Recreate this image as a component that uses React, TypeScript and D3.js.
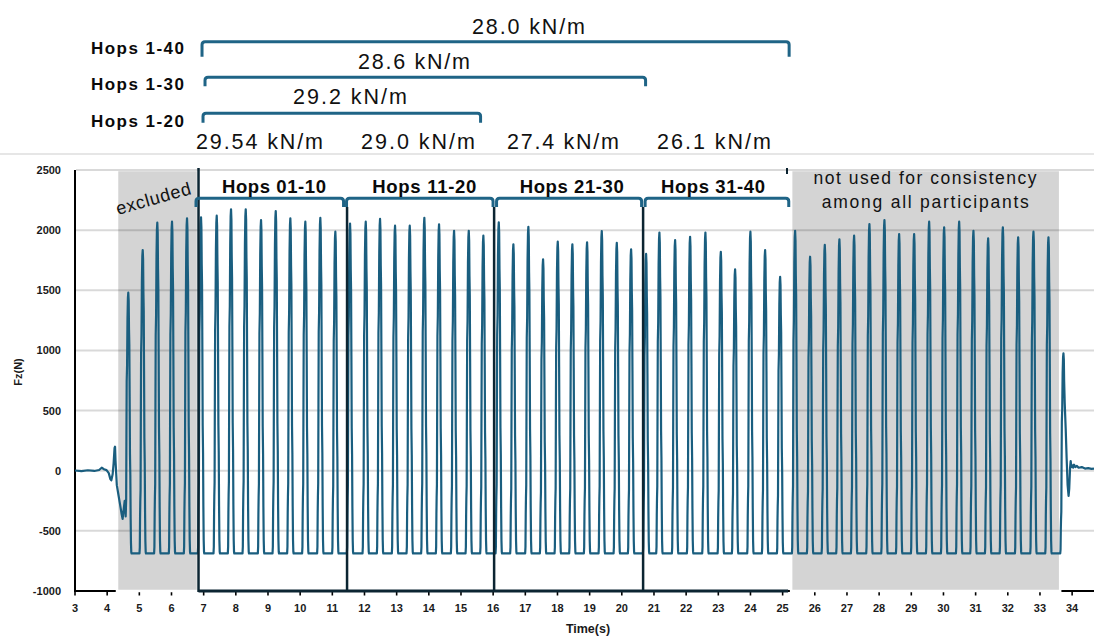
import React from "react";
import * as d3 from "d3";

// ---------- data ----------
const xTickValues = d3.range(3, 35);
const yTickValues = [-1000, -500, 0, 500, 1000, 1500, 2000, 2500];

// peak time (s) and peak force (N) of every hop, in order
const peakTimes = [
  4.657, 5.105, 5.559, 6.016, 6.483,
  6.918, 7.406, 7.851, 8.308, 8.784, 9.241, 9.695, 10.161, 10.627, 11.094,
  11.551, 12.039, 12.484, 12.95, 13.407, 13.861, 14.318, 14.785, 15.242, 15.696,
  16.175, 16.629, 17.095, 17.552, 18.009, 18.463, 18.92, 19.377, 19.844, 20.289,
  20.755, 21.169, 21.657, 22.123, 22.599, 23.078, 23.522, 23.998, 24.455, 24.922,
  25.388, 25.854, 26.311, 26.765, 27.222, 27.698, 28.165, 28.622, 29.088, 29.555,
  30.021, 30.488, 30.932, 31.389, 31.846, 32.322, 32.798, 33.264,
  33.73,
];
const peakForces = [
  1480, 1835, 2062, 2070, 2098,
  2106, 2120, 2173, 2173, 2084, 2159, 2098, 2070, 2103, 1987,
  2055, 2070, 2093, 2037, 2037, 2103, 2048, 1995, 1995, 1954,
  2065, 1882, 2028, 1757, 1904, 1882, 1899, 1993, 1895, 1840,
  1802, 1979, 1918, 1945, 1979, 1820, 1674, 1987, 1835, 1612,
  1995, 1779, 1877, 1923, 1954, 2051, 2084, 1968, 1968, 2070,
  2023, 2070, 1995, 1932, 2023, 1940, 1987, 1940,
  976,
];
const flightForce = -688;

// shape of one ground contact (time from peak, share of peak above flight level)
const contactDt = [-0.1, -0.09, -0.082, -0.075, -0.066, -0.058, -0.05, -0.038, -0.025, -0.012, 0, 0.012, 0.022, 0.032, 0.042, 0.052, 0.063, 0.073, 0.083, 0.093, 0.102];
const contactShare = [0, 0.02, 0.12, 0.17, 0.21, 0.45, 0.66, 0.72, 0.9, 0.98, 1, 0.97, 0.86, 0.8, 0.6, 0.38, 0.3, 0.14, 0.04, 0.005, 0];

// quiet standing before the hops and after them
const leadIn: [number, number][] = [
  [3.0, 2], [3.2, -3], [3.4, 4], [3.6, -2], [3.75, 6], [3.83, 25], [3.9, 12], [3.98, 5],
  [4.05, -20], [4.1, -70], [4.13, -80], [4.17, -30], [4.2, 60], [4.23, 190], [4.245, 200],
  [4.26, 80], [4.3, -120], [4.35, -200], [4.4, -280], [4.45, -360], [4.48, -400],
  [4.51, -330], [4.545, -250], [4.575, -380],
];
const tailOut: [number, number][] = [
  [33.77, 560], [33.8, 350], [33.83, 100], [33.86, -120], [33.89, -210], [33.91, -150],
  [33.935, 20], [33.955, 80], [33.975, 30], [34.0, 45], [34.03, 25], [34.06, 50], [34.1, 30],
  [34.15, 40], [34.2, 25], [34.3, 30], [34.4, 18], [34.5, 22], [34.6, 15], [34.68, 18],
];

const excludedSpan = [4.306, 6.825];
const unusedSpan = [25.264, 33.628];
const groupDividers = [6.84, 11.458, 16.03, 20.662];
const groupBoxEnd = 25.17;

const groupLabels = ["Hops 01-10", "Hops 11-20", "Hops 21-30", "Hops 31-40"];
const groupStarts = [6.762, 11.442, 16.106, 20.724];
const groupEnds = [11.349, 15.997, 20.615, 25.19];
const groupStiffness = ["29.54 kN/m", "29.0 kN/m", "27.4 kN/m", "26.1 kN/m"];

const rangeLabels = ["Hops 1-40", "Hops 1-30", "Hops 1-20"];
const rangeStarts = [6.949, 7.042, 6.98];
const rangeEnds = [25.202, 20.739, 15.609];
const rangeStiffness = ["28.0 kN/m", "28.6 kN/m", "29.2 kN/m"];

// ---------- drawing ----------
const W = 1094;
const H = 636;
const TRACE = "#1a5e7f";
const BRACKET = "#1f6486";
const DARK = "#0c2532";
const FONT = "'Liberation Sans', Arial, sans-serif";

function bracketPath(x0: number, x1: number, yTop: number, depth: number, r = 3) {
  return `M${x0},${yTop + depth} L${x0},${yTop + r} Q${x0},${yTop} ${x0 + r},${yTop} L${x1 - r},${yTop} Q${x1},${yTop} ${x1},${yTop + r} L${x1},${yTop + depth}`;
}

export default function App() {
  const x = d3.scaleLinear().domain([3, 34.68]).range([75, 1094]);
  const y = d3.scaleLinear().domain([-1000, 2500]).range([591, 170]);

  const pts: [number, number][] = [...leadIn];
  peakTimes.forEach((tp, i) => {
    const pk = peakForces[i];
    contactDt.forEach((dt, j) => {
      const t = tp + dt;
      const last = pts[pts.length - 1];
      if (t <= last[0] || t >= tailOut[0][0]) return;
      pts.push([t, flightForce + contactShare[j] * (pk - flightForce)]);
    });
  });
  tailOut.forEach((p) => pts.push(p));

  const line = d3
    .line<[number, number]>()
    .x((d) => x(d[0]))
    .y((d) => y(d[1]));

  const groupBracketY = 198.3;
  const rangeBracketY = [41.7, 77.3, 113.3];
  const rangeDepth = [15, 9, 9.4];
  const rangeLabelBase = [54, 90, 127];
  const rangeValueX = [528.5, 414, 350];
  const rangeValueBase = [34, 68.5, 104];
  const rangeValueLen = [113, 112, 114];
  const groupValueX = [259.5, 418, 563, 714];
  const groupValueLen = [127, 114, 112, 114];
  const groupLabelX = [274, 424.3, 571.7, 713];

  return (
    <svg
      width={W}
      height={H}
      style={{ position: "absolute", left: 0, top: 0, background: "#fff" }}
      fontFamily={FONT}
    >
      <rect x={0} y={0} width={W} height={H} fill="#fff" />
      <line x1={0} x2={W} y1={154} y2={154} stroke="#e6e6e6" strokeWidth={2} />

      {/* axes */}
      <line x1={75} x2={75} y1={170} y2={592} stroke="#000" strokeWidth={2} />
      <line x1={74} x2={W} y1={591} y2={591} stroke="#000" strokeWidth={2} />
      {xTickValues.map((t) => (
        <line key={"xt" + t} x1={x(t)} x2={x(t)} y1={591} y2={595.5} stroke="#000" strokeWidth={1.6} />
      ))}

      {/* shaded spans */}
      <rect
        x={x(excludedSpan[0])}
        y={y(2500)}
        width={x(excludedSpan[1]) - x(excludedSpan[0])}
        height={y(-1000) - y(2500)}
        fill="#d4d4d4"
        stroke="#fff"
        strokeWidth={2.5}
      />
      <line x1={787} x2={787} y1={168} y2={174} stroke={DARK} strokeWidth={2} />
      <rect
        x={x(unusedSpan[0])}
        y={y(2500)}
        width={x(unusedSpan[1]) - x(unusedSpan[0])}
        height={y(-1000) - y(2500)}
        fill="#d4d4d4"
        stroke="#fff"
        strokeWidth={2.5}
      />

      {/* grid */}
      {yTickValues
        .filter((v) => v > -1000)
        .map((v) => (
          <line key={"g" + v} x1={76} x2={W} y1={y(v)} y2={y(v)} stroke="#000" strokeOpacity={0.15} strokeWidth={2} />
        ))}

      {/* force trace */}
      <path d={line(pts) || ""} fill="none" stroke={TRACE} strokeWidth={2.2} strokeLinejoin="round" />

      {/* hop group boxes */}
      {groupDividers.map((t, i) => (
        <line
          key={"dv" + i}
          x1={x(t)}
          x2={x(t)}
          y1={i === 0 ? 168 : 207}
          y2={592}
          stroke={DARK}
          strokeWidth={2.5}
        />
      ))}
      <line x1={x(groupDividers[0])} x2={x(groupBoxEnd)} y1={591} y2={591} stroke={DARK} strokeWidth={3} />

      {/* group brackets */}
      {groupLabels.map((lab, i) => (
        <g key={"gb" + i}>
          <path
            d={bracketPath(x(groupStarts[i]), x(groupEnds[i]), groupBracketY, 8.7)}
            fill="none"
            stroke={BRACKET}
            strokeWidth={3}
          />
          <text
            x={groupLabelX[i]}
            y={193.3}
            textAnchor="middle"
            fontWeight="bold"
            fontSize={18.5}
            fill="#0a0a0a"
            textLength={104}
            lengthAdjust="spacing"
          >
            {lab}
          </text>
          <text
            x={groupValueX[i]}
            y={148.5}
            textAnchor="middle"
            fontSize={21.5}
            fill="#111"
            textLength={groupValueLen[i]}
            lengthAdjust="spacing"
          >
            {groupStiffness[i]}
          </text>
        </g>
      ))}

      {/* cumulative brackets */}
      {rangeLabels.map((lab, i) => (
        <g key={"rb" + i}>
          <path
            d={bracketPath(x(rangeStarts[i]), x(rangeEnds[i]), rangeBracketY[i], rangeDepth[i])}
            fill="none"
            stroke={BRACKET}
            strokeWidth={3}
          />
          <text
            x={184}
            y={rangeLabelBase[i]}
            textAnchor="end"
            fontWeight="bold"
            fontSize={17}
            fill="#0a0a0a"
            textLength={93}
            lengthAdjust="spacing"
          >
            {lab}
          </text>
          <text
            x={rangeValueX[i]}
            y={rangeValueBase[i]}
            textAnchor="middle"
            fontSize={21.5}
            fill="#111"
            textLength={rangeValueLen[i]}
            lengthAdjust="spacing"
          >
            {rangeStiffness[i]}
          </text>
        </g>
      ))}

      {/* span notes */}
      <text
        transform="translate(155,204.5) rotate(-16)"
        textAnchor="middle"
        fontSize={18}
        fill="#111"
        textLength={77}
        lengthAdjust="spacing"
      >
        excluded
      </text>
      <text x={925} y={184} textAnchor="middle" fontSize={17.5} fill="#111" textLength={223} lengthAdjust="spacing">
        not used for consistency
      </text>
      <text x={925.3} y={208.3} textAnchor="middle" fontSize={17.5} fill="#111" textLength={207} lengthAdjust="spacing">
        among all participants
      </text>

      {/* tick labels */}
      {yTickValues.map((v) => (
        <text key={"yl" + v} x={61} y={y(v) + 4} textAnchor="end" fontSize={11} fontWeight="bold" fill="#1a1a1a">
          {v}
        </text>
      ))}
      {xTickValues.map((t) => (
        <text key={"xl" + t} x={x(t)} y={612} textAnchor="middle" fontSize={11} fontWeight="bold" fill="#1a1a1a">
          {t}
        </text>
      ))}
      <text x={588} y={632.5} textAnchor="middle" fontSize={12.5} fontWeight="bold" fill="#1a1a1a">
        Time(s)
      </text>
      <text transform="translate(22,372) rotate(-90)" textAnchor="middle" fontSize={11} fontWeight="bold" fill="#1a1a1a">
        Fz(N)
      </text>
    </svg>
  );
}
